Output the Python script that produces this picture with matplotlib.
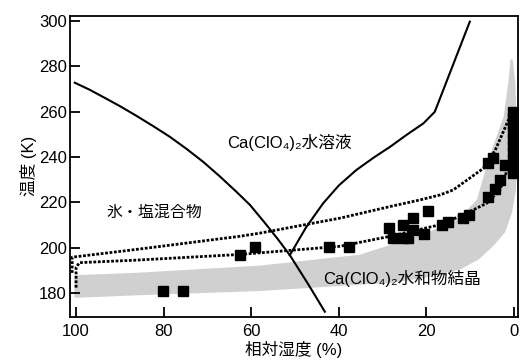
import matplotlib
matplotlib.use("Agg")
import matplotlib.pyplot as plt

plt.rcParams['font.family'] = ['Liberation Sans', 'Noto Sans CJK JP', 'DejaVu Sans']

# Ca(ClO4)2 hydrate crystal region (grey band), outline
band_x = [100.4, 86.3, 58, 35.2, 20, 12.3, 8.5, 7.4, 5.1, 2.4, 1.3, 0.8, 0.3, -0.3, -0.6,
          -0.7, -0.4, 0.5, 2, 4.8, 8, 12.3, 20, 27.6, 58, 86.3, 100.4]
band_k = [188, 189, 192.2, 197, 206.4, 213.7, 221.1, 228.5, 243, 257.6, 273, 283, 283, 272, 255,
          235, 225, 215.3, 207, 200.7, 195, 190.5, 187, 184.7, 181, 179.1, 178]

# ice / salt boundary
ice_x = [100.3, 97, 93.9, 90, 86.2, 82.4, 78.6, 74.8, 71, 67.2, 63.4, 60.3, 56.9, 54, 51.2, 47, 43.2]
ice_k = [272.7, 269.7, 266.5, 262.4, 258.1, 253.6, 248.9, 243.6, 237.9, 231.5, 224.7, 218.9, 211,
         204, 196.8, 184, 171.9]

# solution boundary
sol_x = [51.2, 47.5, 43.6, 40, 36.0, 32, 28.3, 24.5, 20.7, 18.1, 10.1]
sol_k = [196.8, 209, 219.6, 227.5, 234.3, 239.8, 244.5, 249.8, 254.8, 259.9, 299.6]

# dotted curves
upper_x = [100.9, 100.9, 86.3, 62.6, 58, 39.7, 28.3, 21.5, 16.9, 13.9, 7, 4.3, 1.3, 0.9]
upper_k = [189, 195.9, 199.3, 205.1, 206.5, 213.1, 218.2, 221.1, 223.3, 225.5, 235, 243, 256.2, 259]
lower_x = [100.0, 100.0, 99.2, 86.3, 62.6, 39.7, 28.3, 16.9, 10.8, 6.2, 3.2, 1.3, 0.8]
lower_k = [182.5, 191.5, 193.5, 194.6, 197.1, 200.7, 205.1, 210.2, 215.3, 219.7, 225.5, 235.7, 242]

# measurements
obs_rh = [80.2, 75.6, 62.5, 59.2, 42.3, 37.7,
          28.6, 27.6, 25.3, 25.3, 24.2, 23.0, 23.0, 20.5, 19.6,
          16.5, 15.1, 11.6, 10.4, 6.0, 5.9, 4.7, 4.3, 3.2, 2.1,
          0.2, 0.2, 0.2, 0.2, 0.2, 0.2, 0.2, 0.2, 0.2, 0.2]
obs_t = [181.0, 181.0, 196.9, 200.5, 200.5, 200.5,
         208.6, 204.2, 210.1, 204.2, 204.2, 213.3, 207.9, 206.0, 216.4,
         210.1, 211.5, 213.1, 214.6, 222.3, 237.2, 239.4, 225.8, 229.9, 236.5,
         233, 236, 239, 242, 245, 248, 251, 254, 257, 260]

fig = plt.figure(figsize=(5.2, 3.61), dpi=100)
ax = fig.add_axes([0.1337, 0.1227, 0.8633, 0.8338])

ax.fill(band_x, band_k, color='#d0d0d0', lw=0, zorder=1)
ax.plot(ice_x, ice_k, color='black', lw=1.5, zorder=3)
ax.plot(sol_x, sol_k, color='black', lw=1.5, zorder=3)
ax.plot(upper_x, upper_k, color='black', lw=2.0, ls=(0, (1, 0.6)), zorder=2)
ax.plot(lower_x, lower_k, color='black', lw=2.0, ls=(0, (1, 0.6)), zorder=2)
ax.plot(obs_rh, obs_t, 's', color='black', ms=6.8, zorder=4)

ax.text(51.4, 246.5, 'Ca(ClO₄)₂水溶液', fontsize=12, ha='center', va='center')
ax.text(82.1, 215.6, '氷・塩混合物', fontsize=11.5, ha='center', va='center')
ax.text(25.5, 186.7, 'Ca(ClO₄)₂水和物結晶', fontsize=12, ha='center', va='center')

ax.set_xlim(101.5, -1.0)
ax.set_ylim(169.7, 302.2)
ax.set_xticks([100, 80, 60, 40, 20, 0])
ax.set_yticks([180, 200, 220, 240, 260, 280, 300])
ax.tick_params(direction='in', length=7, width=1.3, labelsize=12)
ax.tick_params(axis='x', pad=5)
ax.tick_params(axis='y', pad=2)
for s in ax.spines.values():
    s.set_linewidth(1.3)

ax.set_xlabel('相対湿度 (%)', fontsize=12, labelpad=2)
ax.set_ylabel('温度 (K)', fontsize=12, labelpad=1)

fig.savefig('out.png', dpi=100)
